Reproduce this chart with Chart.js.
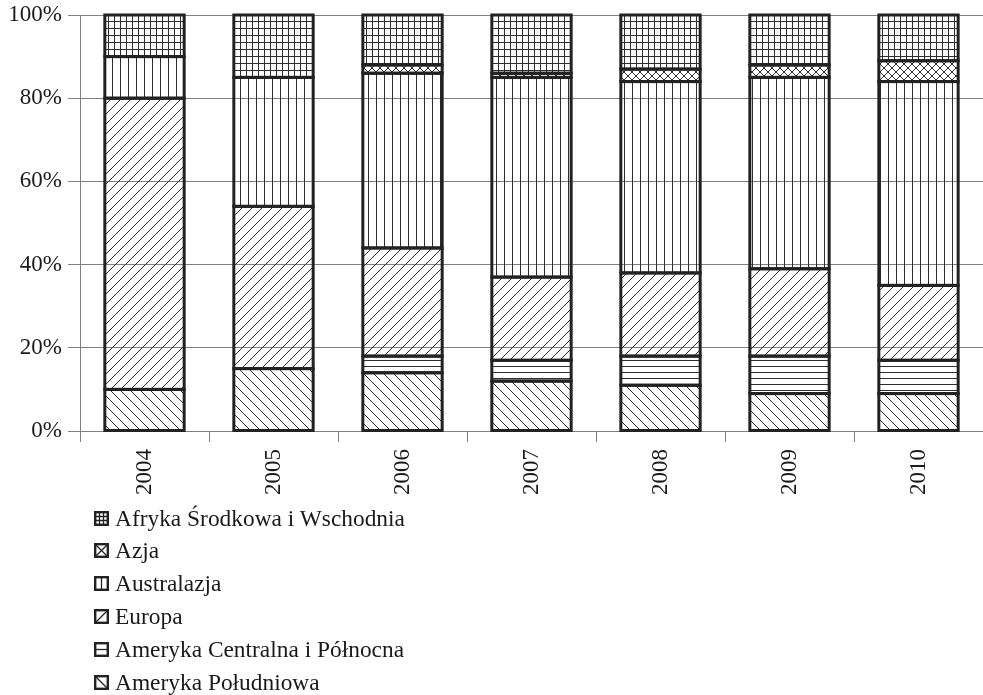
<!DOCTYPE html>
<html>
<head>
<meta charset="utf-8">
<script src="https://cdn.jsdelivr.net/npm/chart.js@4/dist/chart.umd.min.js"></script>
<style>
  html, body { margin: 0; padding: 0; background: #fff; }
  #wrap { position: relative; width: 983px; height: 695px; }
  #chart { position: absolute; left: 0; top: 0; }
  .lg-row { position: absolute; left: 94px; height: 30px; display: flex; align-items: center;
            font-family: "Liberation Serif", "Times New Roman", serif; font-size: 23.4px; color: #1a1a1a; white-space: nowrap; }
  .lg-row canvas { margin-right: 6px; display: block; }
</style>
</head>
<body>
<div id="wrap">
  <canvas id="chart" width="983" height="695"></canvas>
</div>
<script>
// Years on the category axis
const years = ['2004', '2005', '2006', '2007', '2008', '2009', '2010'];

// Share of each region per year (%), stacked bottom to top
const amerykaPoludniowa   = [10, 15, 14, 12, 11, 9, 9];
const amerykaCentralna    = [0, 0, 4, 5, 7, 9, 8];
const europa              = [70, 39, 26, 20, 20, 21, 18];
const australazja         = [10, 31, 42, 48, 46, 46, 49];
const azja                = [0, 0, 2, 1, 3, 3, 5];
const afrykaSrodkowa      = [10, 15, 12, 14, 13, 12, 11];

// Series names (bottom to top of each stack)
const seriesNames = [
  'Ameryka Południowa',
  'Ameryka Centralna i Północna',
  'Europa',
  'Australazja',
  'Azja',
  'Afryka Środkowa i Wschodnia'
];
const seriesValues = [amerykaPoludniowa, amerykaCentralna, europa, australazja, azja, afrykaSrodkowa];

// Y axis tick values
const yTicks = [0, 20, 40, 60, 80, 100];

// Hatch style for each series
const hatchKinds = ['back', 'horiz', 'fwd', 'vert', 'cross', 'grid'];

const LINE = '#2e2e2e';
const BORDER = '#222222';
const AXIS = '#808080';
const FONT = '"Liberation Serif", "Times New Roman", serif';

function makePattern(kind) {
  const dims = { grid: [6, 7], cross: [8, 8], vert: [8, 8], fwd: [10, 10], horiz: [6, 6], back: [10, 10] }[kind];
  const w = dims[0], h = dims[1];
  const c = document.createElement('canvas');
  c.width = w; c.height = h;
  const g = c.getContext('2d');
  g.strokeStyle = LINE;
  g.lineWidth = 1;
  g.beginPath();
  if (kind === 'grid') {
    g.moveTo(0.5, 0); g.lineTo(0.5, h);
    g.moveTo(0, 0.5); g.lineTo(w, 0.5);
  } else if (kind === 'vert') {
    g.moveTo(0.5, 0); g.lineTo(0.5, h);
  } else if (kind === 'horiz') {
    g.moveTo(0, 0.5); g.lineTo(w, 0.5);
  } else if (kind === 'fwd' || kind === 'cross') {
    g.moveTo(-1, h + 1); g.lineTo(w + 1, -1);
    g.moveTo(-1, 1); g.lineTo(1, -1);
    g.moveTo(w - 1, h + 1); g.lineTo(w + 1, h - 1);
  }
  if (kind === 'back' || kind === 'cross') {
    g.moveTo(-1, -1); g.lineTo(w + 1, h + 1);
    g.moveTo(w - 1, -1); g.lineTo(w + 1, 1);
    g.moveTo(-1, h - 1); g.lineTo(1, h + 1);
  }
  g.stroke();
  return g.createPattern(c, 'repeat');
}

const datasets = seriesNames.map((name, i) => ({
  label: name,
  data: seriesValues[i].map(v => (v === 0 ? null : v)),
  backgroundColor: makePattern(hatchKinds[i]),
  borderWidth: 0,
  categoryPercentage: 1,
  barPercentage: 0.615
}));

// Outline every bar segment with one centred stroke so shared edges stay a single line
const segmentOutline = {
  id: 'segmentOutline',
  afterDatasetsDraw(chart) {
    const ctx = chart.ctx;
    ctx.save();
    ctx.strokeStyle = BORDER;
    ctx.lineWidth = 3;
    ctx.lineJoin = 'miter';
    chart.data.datasets.forEach((ds, i) => {
      const meta = chart.getDatasetMeta(i);
      meta.data.forEach((el, j) => {
        if (ds.data[j] == null) return;
        const top = Math.min(el.y, el.base);
        const h = Math.abs(el.base - el.y);
        if (h <= 0) return;
        ctx.strokeRect(el.x - el.width / 2, top, el.width, h);
      });
    });
    ctx.restore();
  }
};

new Chart(document.getElementById('chart'), {
  type: 'bar',
  data: { labels: years, datasets },
  plugins: [segmentOutline],
  options: {
    responsive: false,
    devicePixelRatio: 1,
    animation: false,
    layout: { padding: { top: 15, right: 0, left: 0, bottom: 194 } },
    plugins: { legend: { display: false }, tooltip: { enabled: false } },
    scales: {
      x: {
        stacked: true,
        grid: { display: true, drawOnChartArea: false, drawTicks: true, tickLength: 11, color: AXIS, offset: true },
        border: { display: true, color: AXIS },
        ticks: { font: { family: FONT, size: 23 }, color: '#1a1a1a', minRotation: 90, maxRotation: 90, padding: 7, autoSkip: false },
        afterFit(s) { s.height = 70; s.paddingLeft = 0; s.paddingRight = 0; }
      },
      y: {
        stacked: true,
        min: 0,
        max: 100,
        afterBuildTicks(s) { s.ticks = yTicks.map(v => ({ value: v })); },
        ticks: { font: { family: FONT, size: 23 }, color: '#1a1a1a', padding: 6, callback: v => v + '%' },
        grid: { color: AXIS, tickLength: 12, lineWidth: 1 },
        border: { display: true, color: AXIS },
        afterFit(s) { s.width = 80; s.paddingTop = 0; s.paddingBottom = 0; }
      }
    }
  }
});

// Legend: listed top-down, reverse of the stacking order
function drawIcon(kind) {
  const s = 15;
  const c = document.createElement('canvas');
  c.width = s; c.height = s;
  const g = c.getContext('2d');
  g.fillStyle = '#fff';
  g.fillRect(0, 0, s, s);
  g.strokeStyle = BORDER;
  g.lineWidth = 1.3;
  g.beginPath();
  if (kind === 'grid') {
    [5.5, 9.5].forEach(p => { g.moveTo(p, 1); g.lineTo(p, s - 1); g.moveTo(1, p); g.lineTo(s - 1, p); });
  } else if (kind === 'vert') {
    g.moveTo(7.5, 1); g.lineTo(7.5, s - 1);
  } else if (kind === 'horiz') {
    g.moveTo(1, 7.5); g.lineTo(s - 1, 7.5);
  } else if (kind === 'fwd') {
    g.moveTo(1, s - 1); g.lineTo(s - 1, 1);
  } else if (kind === 'back') {
    g.moveTo(1, 1); g.lineTo(s - 1, s - 1);
  } else if (kind === 'cross') {
    g.moveTo(1, s - 1); g.lineTo(s - 1, 1);
    g.moveTo(1, 1); g.lineTo(s - 1, s - 1);
  }
  g.stroke();
  g.lineWidth = 2.4;
  g.strokeRect(1.2, 1.2, s - 2.4, s - 2.4);
  return c;
}

const wrap = document.getElementById('wrap');
for (let k = 0; k < seriesNames.length; k++) {
  const i = seriesNames.length - 1 - k;
  const row = document.createElement('div');
  row.className = 'lg-row';
  row.style.top = (503 + k * 32.8) + 'px';
  row.appendChild(drawIcon(hatchKinds[i]));
  const t = document.createElement('span');
  t.textContent = seriesNames[i];
  row.appendChild(t);
  wrap.appendChild(row);
}
</script>
</body>
</html>
